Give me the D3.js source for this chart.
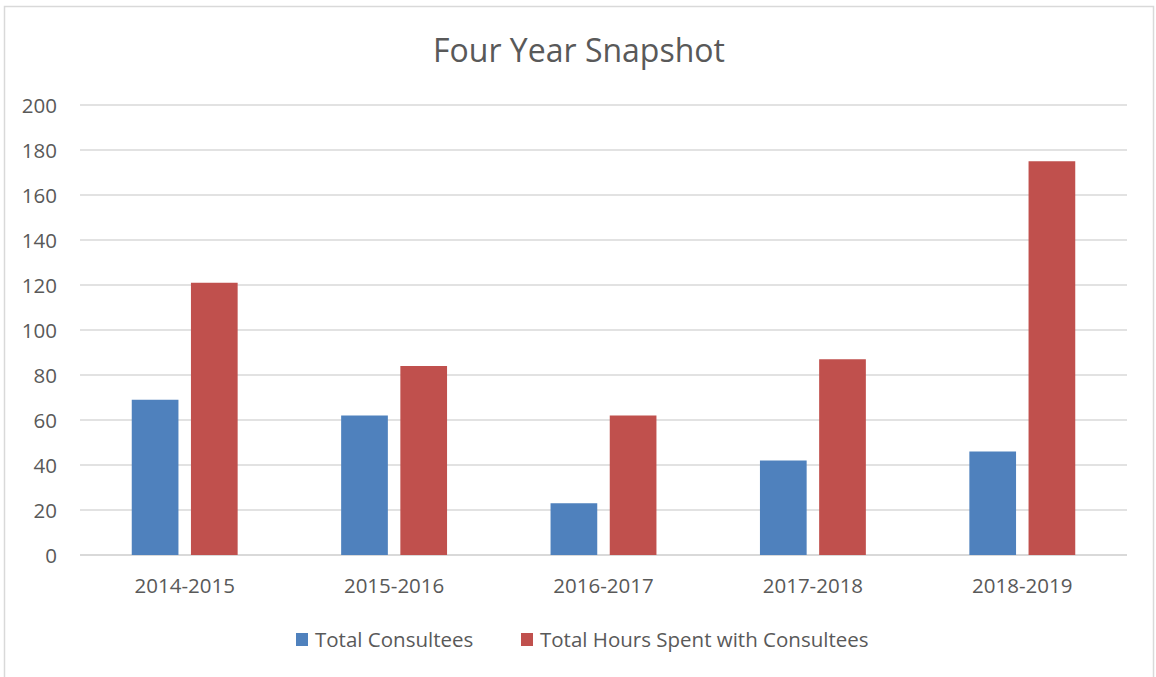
<!DOCTYPE html>
<html><head><meta charset="utf-8">
<script src="https://cdn.jsdelivr.net/npm/d3@7"></script>
<style>body{margin:0;background:#fff}svg{display:block}text{font-family:"Open Sans",Lato,sans-serif;fill:#595959}</style>
</head><body>
<script>
const categories = ["2014-2015","2015-2016","2016-2017","2017-2018","2018-2019"];
const seriesNames = ["Total Consultees","Total Hours Spent with Consultees"];
const consultees = [69,62,23,42,46];
const hours = [121,84,62,87,175];
const yTicks = [0,20,40,60,80,100,120,140,160,180,200];
const colors = ["#4F81BD","#C0504D"];

const W=1156,H=677;
const svg=d3.select("body").append("svg").attr("width",W).attr("height",H);
svg.append("rect").attr("x",4.5).attr("y",6.5).attr("width",1149).attr("height",700).attr("fill","#fff").attr("stroke","#d9d9d9").attr("stroke-width",1.5);

const x0=d3.scaleBand().domain(categories).range([80,1127]);
const y=d3.scaleLinear().domain([0,200]).range([555,105]);

svg.append("text").attr("x",579).attr("y",62).attr("text-anchor","middle").style("font-size","32px").text("Four Year Snapshot");

const g=svg.append("g");
g.selectAll("line.grid").data(yTicks).join("line").attr("x1",80).attr("x2",1127)
 .attr("y1",d=>y(d)).attr("y2",d=>y(d)).attr("stroke","#d9d9d9").attr("stroke-width",d=>d===0?2:1.5);

const yAxis=d3.axisLeft(y).tickValues(yTicks).tickSize(0).tickPadding(0);
const ya=svg.append("g").attr("transform","translate(57,0)").call(yAxis);
ya.select(".domain").remove();
ya.selectAll("text").style("font-size","20.5px").attr("fill","#595959").attr("dy","0.35em");

const xAxis=d3.axisBottom(x0).tickSize(0).tickPadding(0);
const xa=svg.append("g").attr("transform","translate(0,593)").call(xAxis);
xa.select(".domain").remove();
xa.selectAll("text").style("font-size","20.5px").attr("fill","#595959").attr("dy","0");

const bw=46.7, off=29.6;
const data=[consultees,hours];
data.forEach((vals,si)=>{
  g.selectAll("rect.s"+si).data(vals).join("rect").attr("class","s"+si)
   .attr("x",(d,i)=>x0(categories[i])+x0.bandwidth()/2+(si===0?-off:off)-bw/2)
   .attr("width",bw).attr("y",d=>y(d)).attr("height",d=>y(0)-y(d))
   .attr("fill",colors[si]);
});

const leg=svg.append("g");
const lx=[296,521];
seriesNames.forEach((n,i)=>{
  leg.append("rect").attr("x",lx[i]).attr("y",633).attr("width",12).attr("height",13).attr("fill",colors[i]);
  leg.append("text").attr("x",lx[i]+19).attr("y",647).style("font-size","20.5px").text(n);
});
</script>
</body></html>
